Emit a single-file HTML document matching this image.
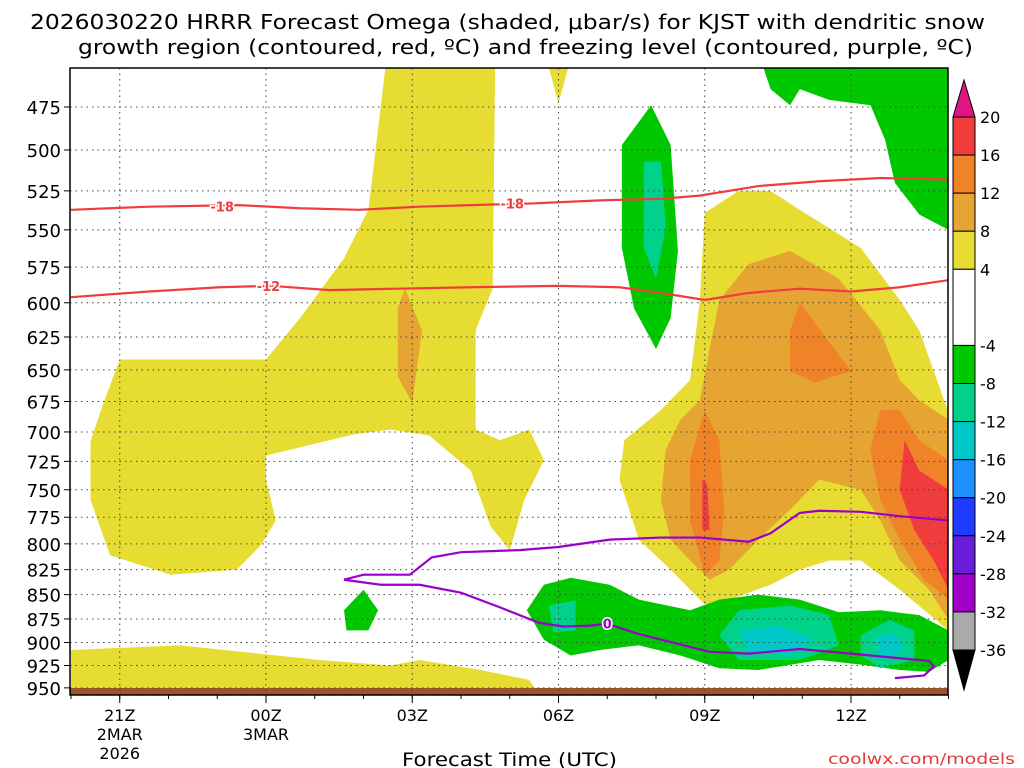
<!DOCTYPE html>
<html><head><meta charset="utf-8"><style>
html,body{margin:0;padding:0;background:#fff;}
svg{display:block;font-family:"DejaVu Sans","Liberation Sans",sans-serif;}
</style></head><body>
<svg id="chart" width="1024" height="768" viewBox="0 0 1024 768">
<defs><clipPath id="plotclip"><rect x="70" y="68" width="878" height="627"/></clipPath></defs>
<text x="30" y="29" font-size="20" textLength="955" lengthAdjust="spacingAndGlyphs">2026030220 HRRR Forecast Omega (shaded, μbar/s) for KJST with dendritic snow</text>
<text x="78" y="54" font-size="20" textLength="895" lengthAdjust="spacingAndGlyphs">growth region (contoured, red, ºC) and freezing level (contoured, purple, ºC)</text>
<g id="shade" clip-path="url(#plotclip)"></g>
<g id="grid"></g>
<g id="lines" clip-path="url(#plotclip)"></g>
<rect x="70" y="68" width="878" height="627" fill="none" stroke="#000" stroke-width="1.5"/>
<g id="axes"></g>
<g id="cbar"></g>
<text x="402" y="766" font-size="19" textLength="215" lengthAdjust="spacingAndGlyphs">Forecast Time (UTC)</text>
<text x="828" y="764" font-size="15" fill="#e03c3c" textLength="187" lengthAdjust="spacingAndGlyphs">coolwx.com/models</text>
</svg>
<script>
const xTickHours=[1,4,7,10,13,16];
const xTickLabels=[["21Z","2MAR","2026"],["00Z","3MAR"],["03Z"],["06Z"],["09Z"],["12Z"]];
const yLevels=[475,500,525,550,575,600,625,650,675,700,725,750,775,800,825,850,875,900,925,950];
const cbarLevels=[20,16,12,8,4,-4,-8,-12,-16,-20,-24,-28,-32,-36];
const cbarColors=["#f03c3c","#f08228","#e6a532","#e6dc32","#ffffff","#00c800","#00d28c","#00c8c8","#1e90ff","#1e3cff","#6a1edc","#a000c8","#aaaaaa"];
const contourM18=[[0,537],[1.6,535],[3.45,534],[4.7,536],[5.9,537],[7.15,535],[8.2,534],[9.4,533],[10.85,531],[12.1,530],[12.9,528],[14.1,522],[15.35,519],[16.6,517],[18,518]];
const contourM12=[[0,596],[1.6,592],[3.05,589],[4.1,588],[5.3,591],[6.7,590],[8.2,589],[10,588],[11.25,589],[12.1,593],[13,598],[13.9,593],[14.95,590],[16,592],[17,589],[18,584]];
const freezeUpper=[[5.6,835],[6,830],[6.95,830],[7.4,813],[8,808],[9.2,806],[10,803],[11.05,796],[12.1,794],[12.9,794],[13.9,798],[14.35,790],[14.95,771],[15.35,769],[16.2,770],[17,774],[18,778]];
const freezeLower=[[5.6,835],[6.35,840],[7.15,840],[8,848],[8.8,863],[9.6,879],[10.1,883],[10.65,882],[11,880],[11.65,891],[12.5,902],[13.1,910],[13.9,912],[14.95,907],[16,912],[17,917],[17.6,920],[17.7,926],[17.5,936],[16.9,939]];
const Y="#e6dc32",O="#e6a532",DO="#f08228",R="#f03c3c",G="#00c800",T="#00d28c",C="#00c8c8";
const shadeRegions=[
 {c:Y,n:"yellow-left",p:[[0.4,708],[0.65,678],[1,642],[4,642],[4.7,611],[5.6,569],[6.1,537],[6.45,453],[8.7,453],[8.65,590],[8.3,620],[8.3,698],[8.8,707],[9.4,698],[9.7,724],[9.3,759],[9,806],[8.6,783],[8.2,733],[7.35,703],[6.55,698],[5.8,702],[5.3,707],[4,720],[4,741],[4.2,778],[3.9,801],[3.4,825],[2.05,830],[0.8,811],[0.4,759]]},
 {c:O,n:"orange-left",p:[[6.85,590],[7.2,620],[7,676],[6.7,655],[6.7,604]]},
 {c:Y,n:"yellow-top",p:[[9.8,453],[10.2,453],[10,473]]},
 {c:Y,n:"yellow-bottom",p:[[0,908],[2.25,903],[5.1,919],[6.55,925],[7.15,919],[8.4,930],[9.4,941],[9.6,958],[0,958]]},
 {c:Y,n:"yellow-right",p:[[13,539],[13.7,525],[14.35,525],[14.95,537],[16.2,562],[17,598],[17.4,620],[18,684],[18,887],[17,845],[16.2,816],[15.55,816],[14.95,825],[14.35,840],[13.5,855],[13,860],[12.7,845],[12.3,825],[11.65,796],[11.25,741],[11.35,707],[12.1,682],[12.7,658],[12.9,598]]},
 {c:O,n:"orange-right",p:[[13.3,598],[13.9,573],[14.75,564],[15.75,583],[16.6,620],[17,658],[17.4,674],[18,690],[18,876],[17.6,845],[17,816],[16.6,778],[16.2,750],[15.35,741],[14.75,768],[14.1,796],[13.5,825],[13.1,835],[12.7,816],[12.3,796],[12.1,759],[12.2,715],[12.5,690],[12.9,674],[13.1,634]]},
 {c:DO,n:"dark-orange-09z",p:[[12.7,724],[13,682],[13.3,707],[13.4,768],[13.3,816],[13,830],[12.7,778]]},
 {c:DO,n:"dark-orange-11z",p:[[14.95,600],[16,651],[15.25,660],[14.75,651],[14.75,620]]},
 {c:DO,n:"dark-orange-13z",p:[[16.6,682],[17,682],[17.4,707],[18,724],[18,855],[17.5,835],[17,796],[16.6,759],[16.4,715]]},
 {c:R,n:"red-13z",p:[[17.1,707],[17.4,733],[18,750],[18,845],[17.7,816],[17.3,787],[17,750]]},
 {c:R,n:"red-09z",p:[[12.95,741],[13.05,745],[13.1,787],[12.95,787]]},
 {c:G,n:"green-top",p:[[11.3,497],[11.9,474],[12.3,497],[12.45,564],[12.3,611],[12,634],[11.55,604],[11.3,562]]},
 {c:T,n:"teal-top",p:[[11.75,507],[12.1,507],[12.2,548],[12,583],[11.75,562]]},
 {c:G,n:"green-top-right",p:[[14.2,453],[18,453],[18,550],[17.4,540],[16.9,520],[16.7,494],[16.4,474],[15.55,471],[14.95,465],[14.75,474],[14.35,465]]},
 {c:G,n:"green-bottom",p:[[9.35,866],[9.7,840],[10.25,833],[11.05,840],[11.65,855],[12.7,866],[13.3,855],[14.1,850],[14.95,855],[15.75,868],[16.6,866],[17.4,871],[18,887],[18,919],[17.6,932],[17,930],[16.2,924],[15.35,919],[14.1,930],[13.3,928],[12.5,914],[11.65,903],[10.85,908],[10.25,914],[9.7,897]]},
 {c:T,n:"teal-bottom-1",p:[[9.8,861],[10.35,856],[10.35,887],[9.9,889]]},
 {c:T,n:"teal-bottom-2",p:[[13.3,892],[13.7,866],[14.75,861],[15.55,871],[15.75,903],[14.95,919],[13.7,919]]},
 {c:T,n:"teal-bottom-3",p:[[16.2,892],[16.8,876],[17.3,887],[17.3,919],[16.6,928],[16.2,914]]},
 {c:C,n:"cyan-bottom-1",p:[[13.7,887],[14.55,882],[15.25,897],[14.75,913],[13.9,910]]},
 {c:C,n:"cyan-bottom-2",p:[[16.5,895],[16.9,890],[17.1,908],[16.6,919]]},
 {c:G,n:"green-small",p:[[5.6,866],[6,845],[6.3,866],[6.1,887],[5.65,887]]}
];
const NS="http://www.w3.org/2000/svg";
function xs(h){return 71+h*48.75;}
function ys(p){return 107+838*Math.log(p/475);}
function mk(tag,attrs,parent){const e=document.createElementNS(NS,tag);for(const k in attrs)e.setAttribute(k,attrs[k]);parent.appendChild(e);return e;}
const shade=document.getElementById('shade'),grid=document.getElementById('grid'),lines=document.getElementById('lines'),axes=document.getElementById('axes'),cbar=document.getElementById('cbar');
shadeRegions.forEach(r=>{
 const e=mk('polygon',{points:r.p.map(q=>xs(q[0])+','+ys(q[1])).join(' '),fill:r.c},shade);
 
 
});
const ground=mk('rect',{x:70,y:688,width:878,height:7,fill:"#a0522d"},shade);


yLevels.forEach(p=>{
 const y=ys(p);
 const g=mk('line',{x1:70,x2:948,y1:y,y2:y,stroke:"#444","stroke-dasharray":"1.5,4","stroke-width":1},grid);
 
 
 mk('line',{x1:64,x2:70,y1:y,y2:y,stroke:"#000"},axes);
 const t=mk('text',{x:61,y:y+7,"font-size":18,"text-anchor":"end"},axes);t.textContent=p;
 
 
});
for(let h=0;h<=18;h++){mk('line',{x1:xs(h),x2:xs(h),y1:695,y2:699,stroke:"#000"},axes);}
xTickHours.forEach((h,i)=>{
 const x=xs(h);
 const g=mk('line',{x1:x,x2:x,y1:68,y2:695,stroke:"#444","stroke-dasharray":"1.5,4"},grid);
 
 
 mk('line',{x1:x,x2:x,y1:695,y2:703,stroke:"#000"},axes);
 xTickLabels[i].forEach((s,j)=>{
  const t=mk('text',{x:x,y:721+j*19,"font-size":16,"text-anchor":"middle"},axes);t.textContent=s;
  
  
 });
});
function drawLine(data,color,name){
 const e=mk('polyline',{points:data.map(q=>xs(q[0])+','+ys(q[1])).join(' '),fill:"none",stroke:color,"stroke-width":2.2},lines);
 
 
}
function label(h,p,s,color){
 const x=xs(h),y=ys(p);
 const t=mk('text',{x:x,y:y+5,"font-size":13,"font-weight":"bold",fill:color,"text-anchor":"middle",stroke:"#fff","stroke-width":3,"paint-order":"stroke"},lines);t.textContent=s;
 
 
}
drawLine(contourM18,"#f03c3c","contour-minus18");
drawLine(contourM12,"#f03c3c","contour-minus12");
drawLine(freezeUpper,"#9a00c8","freezing-level-upper");
drawLine(freezeLower,"#9a00c8","freezing-level-lower");
label(3.1,535,"-18","#f03c3c");label(9.05,533,"-18","#f03c3c");label(4.05,588,"-12","#f03c3c");label(11,880,"0","#9a00c8");
const cx=953,cw=22;
const cy=l=>117+(20-l)*((650-117)/56);
for(let i=0;i<cbarColors.length;i++){
 const y1=cy(cbarLevels[i]),y2=cy(cbarLevels[i+1]);
 const r=mk('rect',{x:cx,y:y1,width:cw,height:y2-y1,fill:cbarColors[i],stroke:"#000","stroke-width":1},cbar);
 
 
}
const tt=mk('polygon',{points:`${cx},${cy(20)} ${cx+cw},${cy(20)} ${cx+cw/2},80`,fill:"#e0157f",stroke:"#000"},cbar);


const bt=mk('polygon',{points:`${cx},${cy(-36)} ${cx+cw},${cy(-36)} ${cx+cw/2},690`,fill:"#000",stroke:"#000"},cbar);


cbarLevels.forEach(l=>{
 const t=mk('text',{x:980,y:cy(l)+6,"font-size":16},cbar);t.textContent=l;
 
 
});
</script>
</body></html>
